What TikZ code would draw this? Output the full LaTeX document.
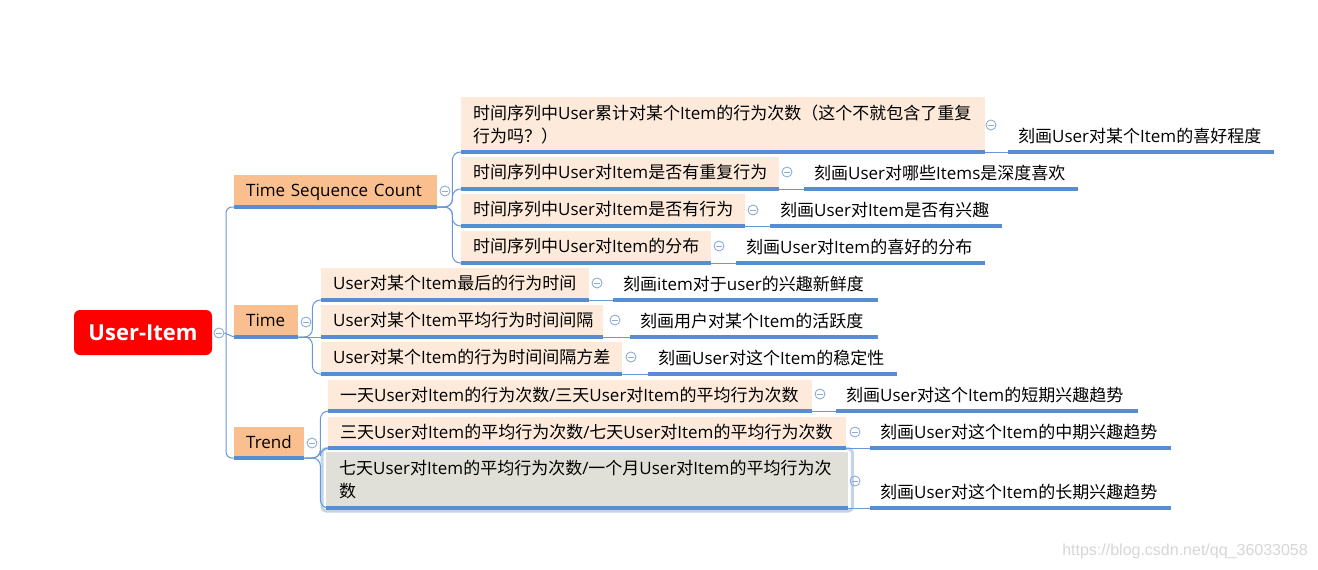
\documentclass[tikz,border=0pt]{standalone}
\usepackage{fontspec}
\setmainfont{Open Sans}
\newfontfamily\latf{Open Sans}
\newfontfamily\cjkf{Noto Sans CJK SC}
\newfontfamily\wmf{Liberation Sans}
\XeTeXinterchartokenstate=1
\newXeTeXintercharclass\cjkcls
\newcount\mycc
\mycc="3000 \loop\ifnum\mycc<"3040 \XeTeXcharclass\mycc=\cjkcls \advance\mycc by 1 \repeat
\mycc="4E00 \loop\ifnum\mycc<"A000 \XeTeXcharclass\mycc=\cjkcls \advance\mycc by 1 \repeat
\mycc="FF00 \loop\ifnum\mycc<"FFF0 \XeTeXcharclass\mycc=\cjkcls \advance\mycc by 1 \repeat
\XeTeXinterchartoks 0 \cjkcls = {\cjkf}
\XeTeXinterchartoks 4095 \cjkcls = {\cjkf}
\XeTeXinterchartoks \cjkcls 0 = {\latf}
\XeTeXinterchartoks \cjkcls 4095 = {\latf}
\definecolor{rootred}{RGB}{255,0,0}
\definecolor{lonefill}{RGB}{249,191,143}
\definecolor{ltwofill}{RGB}{253,234,218}
\definecolor{selfill}{RGB}{224,224,216}
\definecolor{glowc}{RGB}{192,212,236}
\definecolor{ublue}{RGB}{86,141,211}
\definecolor{bblue}{RGB}{104,152,216}
\definecolor{cblue}{RGB}{140,172,215}
\definecolor{wmgray}{RGB}{214,214,214}
\tikzset{
  fs/.style={font=\fontsize{17}{23}\selectfont},
  rootbox/.style={fill=rootred, rounded corners=6pt, minimum width=138pt, minimum height=45pt,
    inner sep=0pt, text=white, font=\fontsize{22}{26}\selectfont\bfseries},
  oneline/.style={text height=14.5pt, text depth=2.5pt},
  boxbase/.style={fs, inner xsep=12pt, inner ysep=0pt, align=left, anchor=south west},
  lone/.style={boxbase, oneline, fill=lonefill, minimum height=32pt},
  ltwo/.style={boxbase, oneline, fill=ltwofill, minimum height=32pt},
  ltwom/.style={boxbase, fill=ltwofill},
  leaf/.style={fs, oneline, inner xsep=10pt, inner ysep=0pt, align=left, anchor=south west, minimum height=31pt},
  uline/.style={draw=ublue, line width=3.5pt},
  branch/.style={draw=bblue, line width=1pt},
  glow/.style={draw=glowc, line width=3pt, rounded corners=4pt},
  coll/.style={circle, draw=cblue, line width=0.9pt, minimum size=10pt, inner sep=0pt,
    path picture={\draw[cblue, line width=0.9pt] ([xshift=-2.6pt]path picture bounding box.center) -- ([xshift=2.6pt]path picture bounding box.center);}},
  wm/.style={text=wmgray, font=\wmf\fontsize{16}{18}\selectfont, inner sep=0pt}
}
\begin{document}
\begin{tikzpicture}[x=1pt,y=-1pt]
\useasboundingbox (0,0) rectangle (1318,570);
% root
\node[rootbox] (root) at (143,332.5) {User-Item};
\node[coll] (c0) at (219,333) {};
% level 1
\node[lone, text width=179pt] (tsc) at (234,207) {Time Sequence Count};
\node[lone, text width=40pt] (time) at (234,337) {Time};
\node[lone, text width=46pt, minimum height=31pt] (trend) at (234,458) {Trend};
\node[coll] (c1) at (445,191) {};
\node[coll] (c2) at (306,322) {};
\node[coll] (c3) at (312,443) {};
% level 2: Time Sequence Count
\node[ltwom, text width=500pt, minimum height=55pt] (n1) at (461,152) {时间序列中User累计对某个Item的行为次数（这个不就包含了重复\\行为吗？）};
\node[ltwo, text width=294pt] (n2) at (461,189) {时间序列中User对Item是否有重复行为};
\node[ltwo, text width=260pt] (n3) at (461,226) {时间序列中User对Item是否有行为};
\node[ltwo, text width=226pt] (n4) at (461,263) {时间序列中User对Item的分布};
% level 2: Time
\node[ltwo, text width=244pt] (t1) at (321,300) {User对某个Item最后的行为时间};
\node[ltwo, text width=258pt] (t2) at (321,337) {User对某个Item平均行为时间间隔};
\node[ltwo, text width=277pt] (t3) at (321,374) {User对某个Item的行为时间间隔方差};
% level 2: Trend
\node[ltwo, text width=460pt, minimum height=31pt] (r1) at (328,411) {一天User对Item的行为次数/三天User对Item的平均行为次数};
\node[ltwo, text width=494pt, minimum height=31pt] (r2) at (328,448) {三天User对Item的平均行为次数/七天User对Item的平均行为次数};
\node[ltwom, fill=selfill, inner xsep=13pt, text width=496pt, minimum height=56pt] (r3) at (326,508) {七天User对Item的平均行为次数/一个月User对Item的平均行为次\\数};
\draw[glow] ([shift={(-4,-3)}]r3.north west) rectangle ([shift={(4,3)}]r3.south east);
% collapse icons level 2
\node[coll] (cn1) at (991,125) {};
\node[coll] (cn2) at (787,172) {};
\node[coll] (cn3) at (753,210) {};
\node[coll] (cn4) at (719,246) {};
\node[coll] (ct1) at (597,283) {};
\node[coll] (ct2) at (615,320) {};
\node[coll] (ct3) at (631,357) {};
\node[coll] (cr1) at (820,394) {};
\node[coll] (cr2) at (855,432) {};
\node[coll] (cr3) at (855,481) {};
% leaves
\node[leaf, text width=246pt] (k1) at (1008,152) {刻画User对某个Item的喜好程度};
\node[leaf, text width=254pt] (k2) at (804,189) {刻画User对哪些Items是深度喜欢};
\node[leaf, text width=212pt] (k3) at (770,226) {刻画User对Item是否有兴趣};
\node[leaf, text width=229pt] (k4) at (736,263) {刻画User对Item的喜好的分布};
\node[leaf, text width=245pt] (kt1) at (613,300) {刻画item对于user的兴趣新鲜度};
\node[leaf, text width=228pt] (kt2) at (630,337) {刻画用户对某个Item的活跃度};
\node[leaf, text width=229pt] (kt3) at (648,374) {刻画User对这个Item的稳定性};
\node[leaf, text width=282pt] (kr1) at (836,411) {刻画User对这个Item的短期兴趣趋势};
\node[leaf, text width=281pt] (kr2) at (870,448) {刻画User对这个Item的中期兴趣趋势};
\node[leaf, text width=281pt] (kr3) at (870,508) {刻画User对这个Item的长期兴趣趋势};
% connectors
\draw[branch] (c0.east) -- (time.south west);
\draw[branch, rounded corners=6pt] (tsc.south west) -- ++(-8,0) |- (trend.south west);
\foreach \n in {n1,n2,n3,n4}
  \draw[branch, rounded corners=8pt] (tsc.south east) -- ++(15,0) |- (\n.south west);
\draw[branch, rounded corners=8pt] (time.south east) -- ++(14,0) |- (t1.south west);
\draw[branch] (time.south east) -- (t2.south west);
\draw[branch, rounded corners=8pt] (time.south east) -- ++(14,0) |- (t3.south west);
\foreach \n in {r1,r2,r3}
  \draw[branch, rounded corners=8pt] (trend.south east) -- ++(16,0) |- (\n.south west);
\foreach \a/\b in {n1/k1,n2/k2,n3/k3,n4/k4,t1/kt1,t2/kt2,t3/kt3,r1/kr1,r2/kr2,r3/kr3}
  \draw[branch] (\a.south east) -- (\b.south west);
% bottom lines
\foreach \n in {tsc,time,trend,n1,n2,n3,n4,t1,t2,t3,r1,r2,r3,k1,k2,k3,k4,kt1,kt2,kt3,kr1,kr2,kr3}
  \draw[uline] (\n.south west) -- (\n.south east);
% watermark
\node[wm, anchor=east] (wmark) at (1308,551) {https://blog.csdn.net/qq\_36033058};
\end{tikzpicture}
\end{document}
